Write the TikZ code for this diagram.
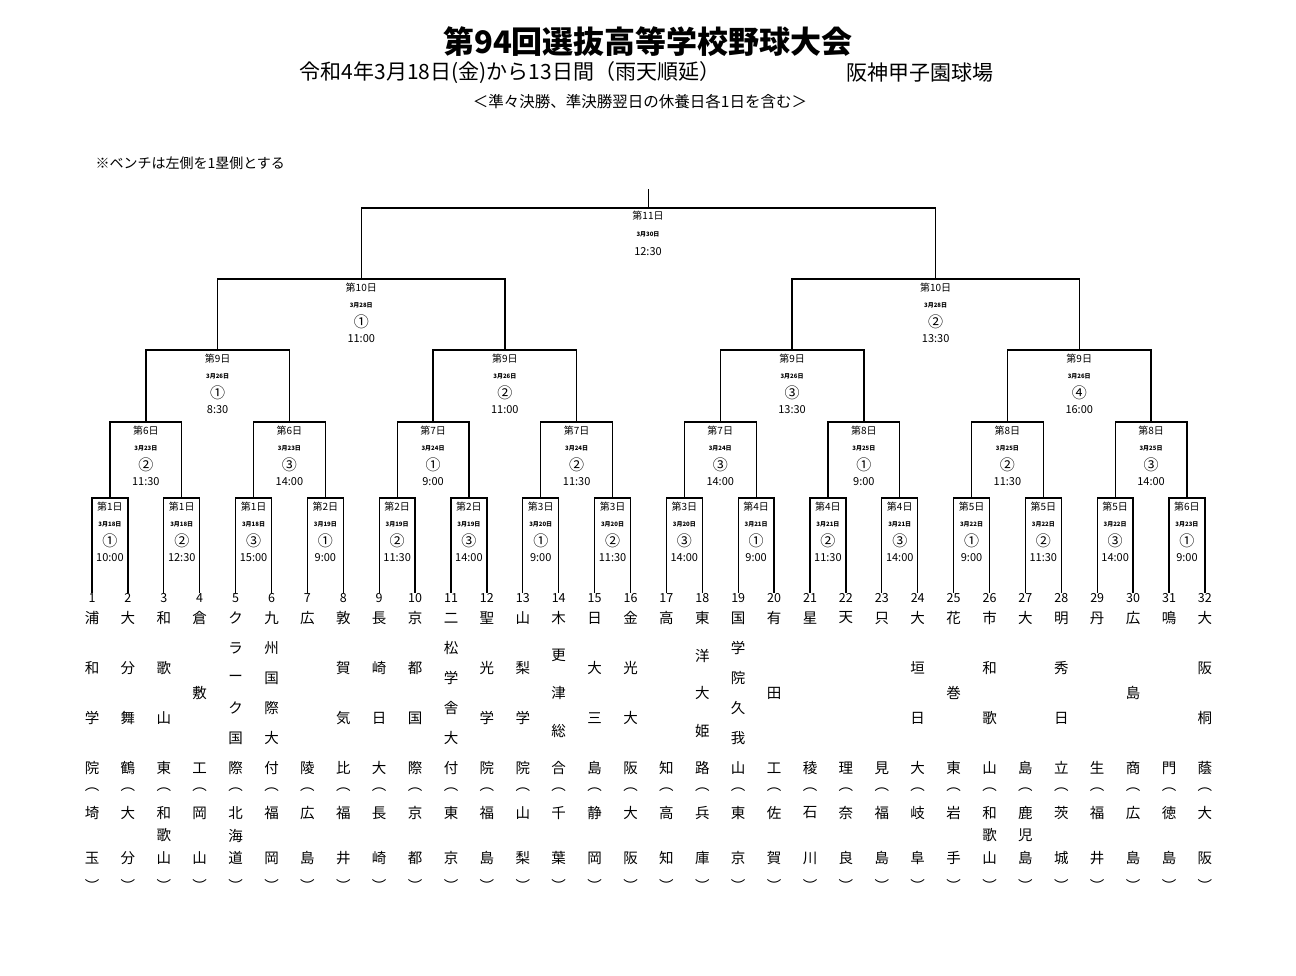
\documentclass[tikz,border=0pt]{standalone}
\usepackage{fontspec}
\setmainfont{Noto Sans CJK JP}
\newcommand\tm[5]{%
 \pgfmathsetmacro\tx{92+(#1-1)*35.9}%
 \node[num] (n#1) at (\tx,598) {#1};
 \foreach \c [count=\i from 0] in {#3} {\node[tt] at (\tx,{618+\i*150/(#2-1)}) {\c};}
 \foreach \c [count=\i from 0] in {#5} {\node[tt] at (\tx,{813+\i*45/(#4-1)}) {\c};}
 \node[tt] at (\tx,790) {︵};
 \node[tt] at (\tx,885) {︶};
}
\newcommand\ml[6]{%
 \node[day] at (#1,{#2+9}) {#3};
 \node[dt] at (#1,{#2+26}) {#4};
 \node[circ] at (#1,{#2+43}) {#5};
 \node[tim] at (#1,{#2+60}) {#6};
}
\begin{document}
\begin{tikzpicture}[x=1pt,y=-1pt,
 tt/.style={font=\fontsize{14.5}{14}\selectfont,inner sep=0},
 num/.style={font=\fontsize{12.5}{12}\selectfont,inner sep=0},
 day/.style={font=\fontsize{10}{10}\selectfont,inner sep=0},
 dt/.style={font=\fontsize{6}{6}\selectfont\bfseries,inner sep=0},
 circ/.style={font=\fontsize{15}{15}\selectfont,inner sep=0},
 tim/.style={font=\fontsize{11}{11}\selectfont,inner sep=0},
 br/.style={line width=1.3pt,line cap=rect}]
\useasboundingbox (0,0) rectangle (1296,975);
\node[font=\fontsize{31}{31}\selectfont\bfseries] (title) at (648,42) {第94回選抜高等学校野球大会};
\node[font=\fontsize{21}{21}\selectfont] (sub) at (510,73) {令和4年3月18日(金)から13日間（雨天順延）};
\node[font=\fontsize{21}{21}\selectfont] (pl) at (920,73) {阪神甲子園球場};
\node[font=\fontsize{15.5}{15}\selectfont] (sub2) at (640,102) {＜準々決勝、準決勝翌日の休養日各1日を含む＞};
\node[font=\fontsize{14}{14}\selectfont,anchor=west] (note) at (92,163) {※ベンチは左側を1塁側とする};
% bracket
\foreach \L/\tp/\bt/\up in {1/498/592/422,2/422/498/350,3/350/422/279,4/279/350/208,5/208/279/190}{
 \pgfmathtruncatemacro\sz{2^\L}
 \pgfmathtruncatemacro\nb{32/\sz}
 \pgfmathtruncatemacro\h{\sz/2}
 \foreach \b in {1,...,\nb}{
  \pgfmathsetmacro\a{(\b-1)*\sz+1}
  \pgfmathsetmacro\xl{92+35.9*((\a-1)+(\a+\h-2))/2}
  \pgfmathsetmacro\xr{92+35.9*((\a+\h-1)+(\a+\sz-2))/2}
  \pgfmathsetmacro\xc{(\xl+\xr)/2}
  \draw[br] (\xl,\bt) -- (\xl,\tp) -- (\xr,\tp) -- (\xr,\bt);
  \draw[br] (\xc,\tp) -- (\xc,\up);
 }
}
% labels round 1
\foreach \d/\dd/\c/\t [count=\j] in {1/18/①/10:00,1/18/②/12:30,1/18/③/15:00,2/19/①/9:00,2/19/②/11:30,2/19/③/14:00,3/20/①/9:00,3/20/②/11:30,3/20/③/14:00,4/21/①/9:00,4/21/②/11:30,4/21/③/14:00,5/22/①/9:00,5/22/②/11:30,5/22/③/14:00,6/23/①/9:00}{
 \pgfmathsetmacro\xc{92+35.9*(2*\j-1.5)}
 \ml{\xc}{498}{第\d 日}{3月\dd 日}{\c}{\t}
}
\foreach \d/\dd/\c/\t [count=\j] in {6/23/②/11:30,6/23/③/14:00,7/24/①/9:00,7/24/②/11:30,7/24/③/14:00,8/25/①/9:00,8/25/②/11:30,8/25/③/14:00}{
 \pgfmathsetmacro\xc{92+35.9*(4*\j-2.5)}
 \ml{\xc}{422}{第\d 日}{3月\dd 日}{\c}{\t}
}
\foreach \c/\t [count=\j] in {①/8:30,②/11:00,③/13:30,④/16:00}{
 \pgfmathsetmacro\xc{92+35.9*(8*\j-4.5)}
 \ml{\xc}{350}{第9日}{3月26日}{\c}{\t}
}
\foreach \c/\t [count=\j] in {①/11:00,②/13:30}{
 \pgfmathsetmacro\xc{92+35.9*(16*\j-8.5)}
 \ml{\xc}{279}{第10日}{3月28日}{\c}{\t}
}
\node[day] (f1) at (648,216) {第11日};
\node[dt] (f2) at (648,234) {3月30日};
\node[tim] (f3) at (648,252) {12:30};
% teams
\tm{1}{4}{浦,和,学,院}{2}{埼,玉}
\tm{2}{4}{大,分,舞,鶴}{2}{大,分}
\tm{3}{4}{和,歌,山,東}{3}{和,歌,山}
\tm{4}{3}{倉,敷,工}{2}{岡,山}
\tm{5}{6}{ク,ラ,ー,ク,国,際}{3}{北,海,道}
\tm{6}{6}{九,州,国,際,大,付}{2}{福,岡}
\tm{7}{2}{広,陵}{2}{広,島}
\tm{8}{4}{敦,賀,気,比}{2}{福,井}
\tm{9}{4}{長,崎,日,大}{2}{長,崎}
\tm{10}{4}{京,都,国,際}{2}{京,都}
\tm{11}{6}{二,松,学,舎,大,付}{2}{東,京}
\tm{12}{4}{聖,光,学,院}{2}{福,島}
\tm{13}{4}{山,梨,学,院}{2}{山,梨}
\tm{14}{5}{木,更,津,総,合}{2}{千,葉}
\tm{15}{4}{日,大,三,島}{2}{静,岡}
\tm{16}{4}{金,光,大,阪}{2}{大,阪}
\tm{17}{2}{高,知}{2}{高,知}
\tm{18}{5}{東,洋,大,姫,路}{2}{兵,庫}
\tm{19}{6}{国,学,院,久,我,山}{2}{東,京}
\tm{20}{3}{有,田,工}{2}{佐,賀}
\tm{21}{2}{星,稜}{2}{石,川}
\tm{22}{2}{天,理}{2}{奈,良}
\tm{23}{2}{只,見}{2}{福,島}
\tm{24}{4}{大,垣,日,大}{2}{岐,阜}
\tm{25}{3}{花,巻,東}{2}{岩,手}
\tm{26}{4}{市,和,歌,山}{3}{和,歌,山}
\tm{27}{2}{大,島}{3}{鹿,児,島}
\tm{28}{4}{明,秀,日,立}{2}{茨,城}
\tm{29}{2}{丹,生}{2}{福,井}
\tm{30}{3}{広,島,商}{2}{広,島}
\tm{31}{2}{鳴,門}{2}{徳,島}
\tm{32}{4}{大,阪,桐,蔭}{2}{大,阪}
\end{tikzpicture}
\end{document}
